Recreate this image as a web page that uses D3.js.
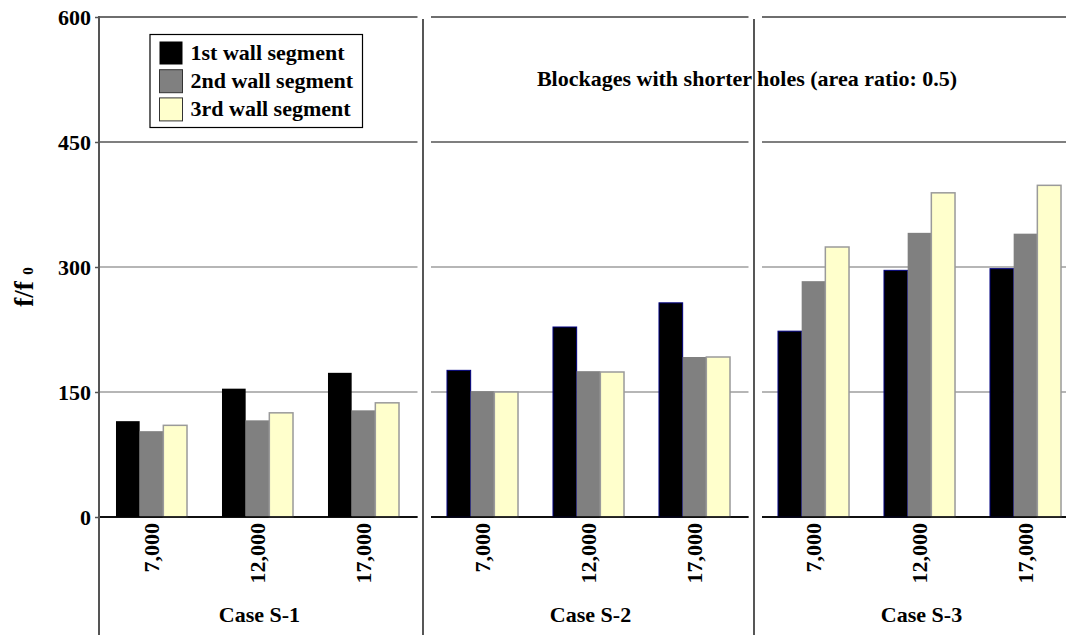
<!DOCTYPE html>
<html>
<head>
<meta charset="utf-8">
<script src="https://cdn.jsdelivr.net/npm/d3@7"></script>
<style>
  html, body { margin: 0; padding: 0; background: #fff; }
  svg { display: block; }
  text { font-family: "Liberation Serif", "Times New Roman", serif; font-weight: bold; fill: #000; }
</style>
</head>
<body>
<svg id="chart" width="1066" height="635"></svg>
<script>
// Friction factor ratio f/f0 per wall segment, three blockage cases, three Reynolds numbers
const cases = ["Case S-1", "Case S-2", "Case S-3"];
const reynolds = ["7,000", "12,000", "17,000"];
const segments = ["1st wall segment", "2nd wall segment", "3rd wall segment"];

// values ordered case by case, Reynolds number within each case
const firstSegment  = [115, 154, 173,  176, 228, 257,  223, 296, 298];
const secondSegment = [103, 116, 128,  151, 175, 192,  283, 341, 340];
const thirdSegment  = [110, 125, 137,  150, 174, 192,  324, 389, 398];

const yTicks = [0, 150, 300, 450, 600];
const title = "Blockages with shorter holes (area ratio: 0.5)";

const seriesValues = [firstSegment, secondSegment, thirdSegment];
const rows = [];
cases.forEach((c, ci) => {
  reynolds.forEach((r, ri) => {
    segments.forEach((s, si) => {
      rows.push({ caseName: c, re: r, seg: s, ci, si, value: seriesValues[si][ci * 3 + ri] });
    });
  });
});

const svg = d3.select("#chart");
const fontSize = 22;

const y = d3.scaleLinear().domain([0, 600]).range([517, 17]);

const xCase = d3.scaleBand().domain(cases).range([98.5, 1078.5]).paddingInner(0.0393);
const xRe = d3.scaleBand().domain(reynolds).range([0, xCase.bandwidth()])
  .paddingInner(0.33).paddingOuter(0.165);
const xSeg = d3.scaleBand().domain(segments).range([0, xRe.bandwidth()]);

const fills = d3.scaleOrdinal().domain(segments).range(["#000000", "#808080", "#ffffcc"]);

// horizontal gridlines, one set per case panel
const gridColor = t => (t === 0 || t === 450) ? "#000" : "#6e6e6e";
const gridWidth = t => t === 600 ? 2 : (t === 0 ? 1.5 : 1.2);
cases.forEach((c, ci) => {
  const x0 = xCase(c) + (ci === 0 ? 0.5 : 1.5);
  const x1 = xCase(c) + xCase.bandwidth() + 1;
  svg.append("g").selectAll("line").data(yTicks).join("line")
    .attr("x1", x0).attr("x2", x1)
    .attr("y1", d => y(d)).attr("y2", d => y(d))
    .attr("stroke", gridColor).attr("stroke-width", gridWidth);
});

// bars
const barStroke = d => {
  if (d.si === 0) return d.ci === 0 ? "none" : "#000080";
  if (d.si === 1) return "none";
  return "#9a9a9a";
};
svg.append("g").selectAll("rect").data(rows).join("rect")
  .attr("x", d => xCase(d.caseName) + xRe(d.re) + xSeg(d.seg))
  .attr("y", d => y(d.value))
  .attr("width", xSeg.bandwidth())
  .attr("height", d => y(0) - y(d.value))
  .attr("fill", d => fills(d.seg))
  .attr("stroke", barStroke)
  .attr("stroke-width", d => d.si === 2 ? 1.5 : 1);

// redraw the baseline above the bars
cases.forEach((c, ci) => {
  svg.append("line")
    .attr("x1", xCase(c) + (ci === 0 ? 0.5 : 1.5)).attr("x2", xCase(c) + xCase.bandwidth() + 1)
    .attr("y1", y(0)).attr("y2", y(0))
    .attr("stroke", "#000").attr("stroke-width", 1.5);
});

// left value axis
const yAxis = d3.axisLeft(y).tickValues(yTicks).tickSize(4).tickPadding(4).tickFormat(d3.format("d"));
const yAxisG = svg.append("g").attr("transform", `translate(${xCase(cases[0]) + 0.5},0)`).call(yAxis);
yAxisG.select(".domain").remove();
yAxisG.selectAll(".tick line").attr("stroke", "#555").attr("stroke-width", 1.5);
yAxisG.selectAll(".tick text")
  .attr("font-size", fontSize)
  .style("font-family", '"Liberation Serif", "Times New Roman", serif')
  .style("font-weight", "bold")
  .attr("fill", "#000");
svg.append("line")
  .attr("x1", xCase(cases[0]) + 0.5).attr("x2", xCase(cases[0]) + 0.5)
  .attr("y1", y(600) - 1).attr("y2", 635)
  .attr("stroke", "#555").attr("stroke-width", 2);

// panel separators
const gap = xCase.step() - xCase.bandwidth();
cases.slice(1).forEach(c => {
  const sx = xCase(c) - gap / 2;
  svg.append("line")
    .attr("x1", sx).attr("x2", sx)
    .attr("y1", y(600) + 2).attr("y2", 635)
    .attr("stroke", "#444").attr("stroke-width", 1.8);
});

// Reynolds number labels, rotated
cases.forEach(c => {
  const xAxis = d3.axisBottom(xRe).tickSize(0).tickPadding(0);
  const g = svg.append("g").attr("transform", `translate(${xCase(c)},${y(0)})`).call(xAxis);
  g.select(".domain").remove();
  g.selectAll(".tick text")
    .attr("font-size", fontSize)
    .style("font-family", '"Liberation Serif", "Times New Roman", serif')
    .style("font-weight", "bold")
    .attr("fill", "#000")
    .attr("text-anchor", "end")
    .attr("transform", "rotate(-90)")
    .attr("x", -6)
    .attr("y", 0)
    .attr("dy", "0.35em");
});

// case names under each panel
svg.append("g").selectAll("text").data(cases).join("text")
  .attr("x", d => xCase(d) + xCase.bandwidth() / 2 + 2)
  .attr("y", 622)
  .attr("text-anchor", "middle")
  .attr("font-size", fontSize)
  .text(d => d);

// axis title f/f0
const yLabel = svg.append("text")
  .attr("transform", "translate(33,287) rotate(-90)")
  .attr("text-anchor", "middle")
  .attr("font-size", 27);
yLabel.append("tspan").text("f/f ");
yLabel.append("tspan").attr("font-size", 15).text("0");

// chart title
svg.append("text")
  .attr("x", 747).attr("y", 86)
  .attr("text-anchor", "middle")
  .attr("font-size", fontSize)
  .text(title);

// legend
const legend = svg.append("g").attr("transform", "translate(150,34.5)");
legend.append("rect")
  .attr("width", 212.5).attr("height", 93)
  .attr("fill", "#fff").attr("stroke", "#000").attr("stroke-width", 1.2);
const items = legend.selectAll("g.item").data(segments).join("g")
  .attr("class", "item")
  .attr("transform", (d, i) => `translate(9.5,${7 + i * 28.2})`);
items.append("rect")
  .attr("width", 23).attr("height", 23)
  .attr("fill", d => fills(d))
  .attr("stroke", (d, i) => i === 0 ? "none" : "#333")
  .attr("stroke-width", 1);
items.append("text")
  .attr("x", 31).attr("y", 11.5).attr("dy", "0.3em")
  .attr("font-size", fontSize)
  .text(d => d);
</script>
</body>
</html>
